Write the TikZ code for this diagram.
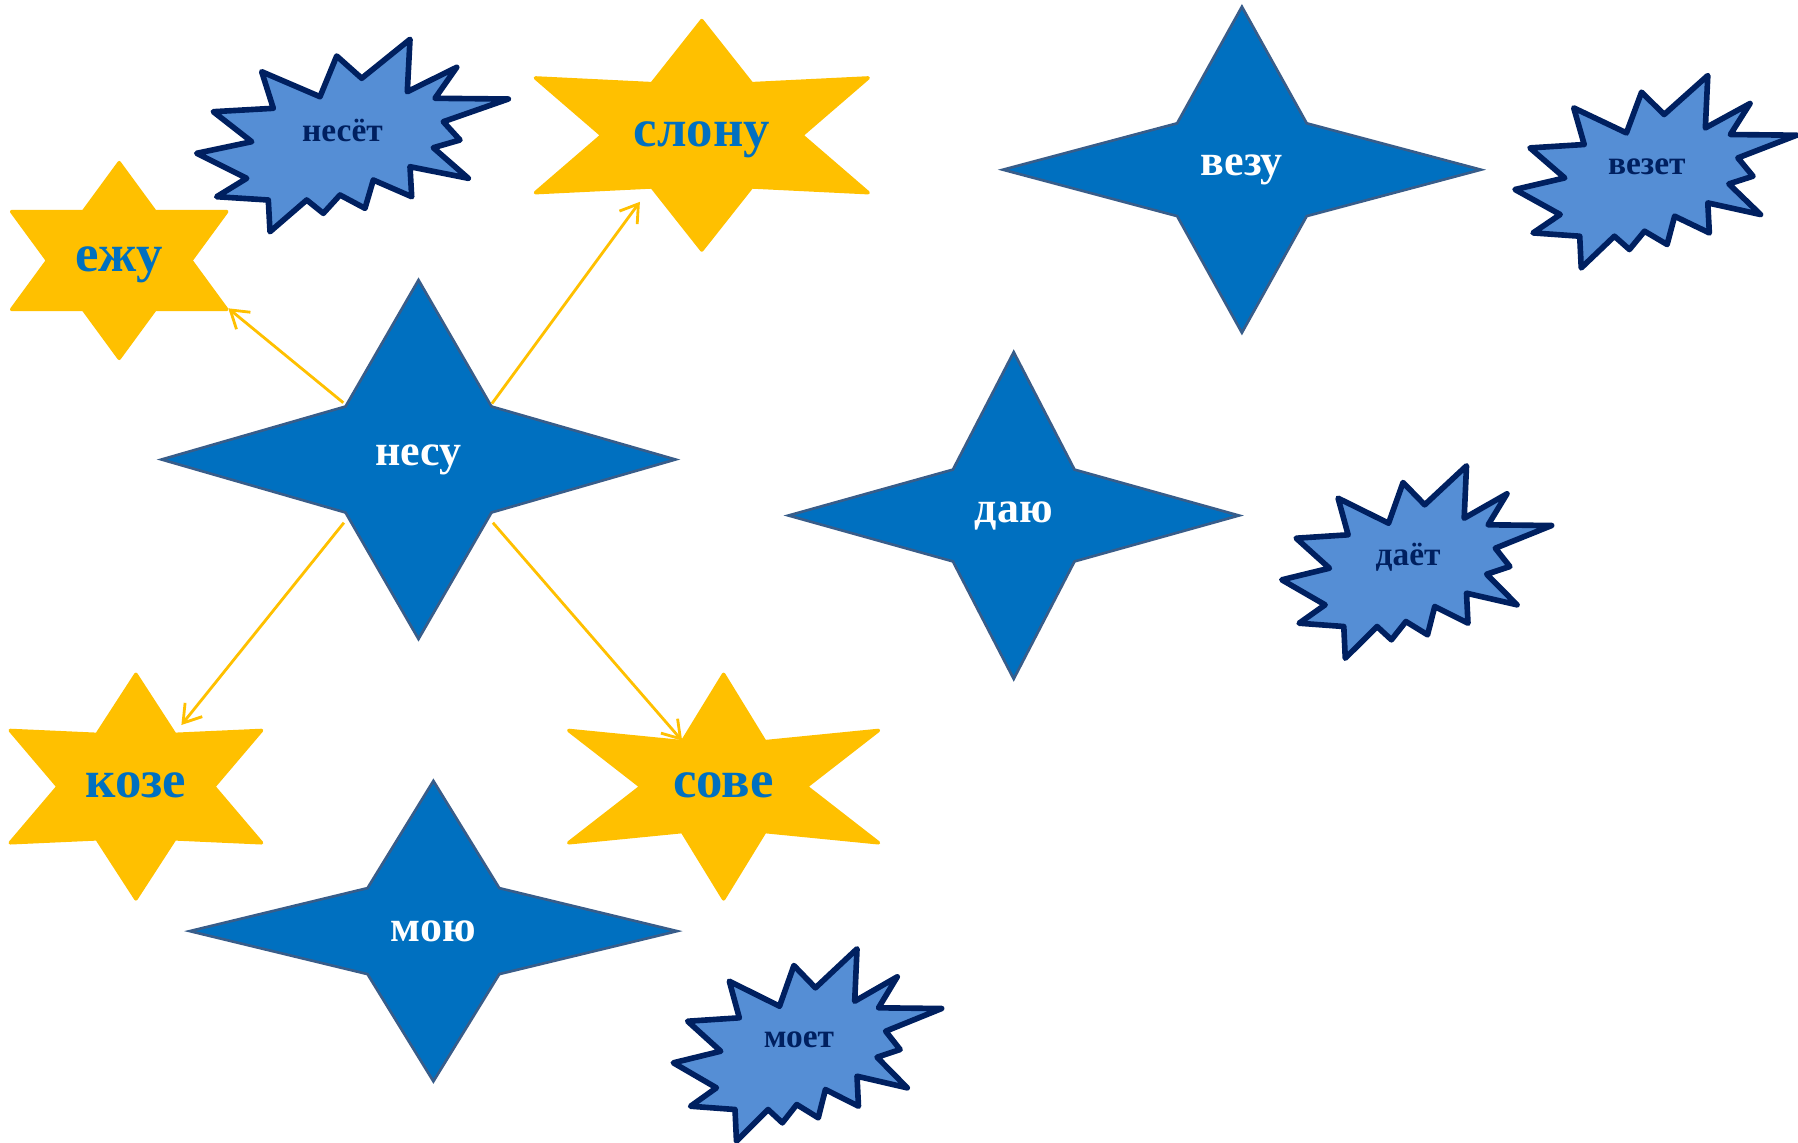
\documentclass[tikz,border=0pt]{standalone}
\usepackage{fontspec}
\setmainfont{Liberation Serif}
\usepackage{tikz}
\usetikzlibrary{arrows.meta}
\usetikzlibrary{calc}
\definecolor{ColStar}{RGB}{0,112,192}
\definecolor{ColEdge}{RGB}{56,93,138}
\definecolor{ColSun}{RGB}{255,192,0}
\definecolor{ColBoom}{RGB}{85,142,213}
\definecolor{ColNavy}{RGB}{0,32,96}
\tikzstyle{StarShape}=[fill=ColStar,draw=ColEdge,line width=0.75pt]
\tikzstyle{SunShape}=[fill=ColSun,draw=ColSun,line width=1pt,line join=round]
\tikzstyle{BoomShape}=[fill=ColBoom,draw=ColNavy,line width=1.6pt,line join=round]
\tikzstyle{StarText}=[text=white,inner sep=0pt,font=\bfseries\fontsize{12.5}{15}\selectfont]
\tikzstyle{SunText}=[text=ColStar,inner sep=0pt,anchor=base,font=\bfseries\fontsize{15}{18}\selectfont]
\tikzstyle{BoomText}=[text=ColNavy,inner sep=0pt,font=\bfseries\fontsize{9.5}{11}\selectfont]
\tikzstyle{EdgeGraph}=[ColSun,line width=0.8pt,-{Straight Barb[length=1.7mm,width=2.2mm]}]
% four-pointed star: name, centre, half width, half height, inner dx, inner dy, word
\newcommand{\StarFour}[7]{%
  \path[StarShape,shift={(#2)}](0,-#4)--(#5,-#6)--(#3,0)--(#5,#6)--(0,#4)--(-#5,#6)--(-#3,0)--(-#5,-#6)--cycle;
  \node[StarText](#1)at(#2){#7};}
% six-pointed star: name, centre, half width, half height, inner ratio, word
\newcommand{\StarSix}[6]{%
  \path[SunShape,shift={(#2)}](0,-#4)--({#5*#3/3},{-#5*#4/2})--(#3,{-#4/2})--({2*#5*#3/3},0)
    --(#3,{#4/2})--({#5*#3/3},{#5*#4/2})--(0,#4)--({-#5*#3/3},{#5*#4/2})--(-#3,{#4/2})
    --({-2*#5*#3/3},0)--(-#3,{-#4/2})--({-#5*#3/3},{-#5*#4/2})--cycle;
  \node[SunText](#1)at($(#2)+(0,11)$){#6};}
% explosion: name, centre, x scale, word
\newcommand{\Boom}[4]{%
  \path[BoomShape,shift={(#2)},xscale=#3](57.5,-96.2)--(54.8,-43.8)--(104.2,-68.2)--(82.5,-37.2)
    --(155.8,-36.5)--(90.8,-13.8)--(107.5,4.5)--(80.8,12.2)--(115.8,42.8)--(57.5,31.2)
    --(59.2,61.2)--(20.8,44.5)--(12.5,72.8)--(-12.5,59.5)--(-29.2,77.8)--(-45.8,64.5)
    --(-82.5,96.2)--(-84.2,64.5)--(-135.8,61.2)--(-105.8,42.8)--(-155.8,17.8)--(-100.8,6.2)
    --(-139.2,-23.8)--(-79.2,-27.2)--(-90.8,-63.8)--(-32.5,-38.8)--(-15.8,-79.5)--(9.2,-57.2)--cycle;
  \node[BoomText](#1)at($(#2)+(-10*#3,-5)$){#4};}

\begin{document}
\begin{tikzpicture}[x=0.01cm,y=-0.01cm]
        \useasboundingbox(0,0)rectangle(1798,1142);
        \StarSix{ezhu}{119.2,260.5}{107.5}{97.8}{1}{ежу}
        \StarSix{slonu}{701.8,135.3}{166.3}{114.7}{0.9}{слону}
        \StarSix{koze}{135.9,786.6}{125.6}{112.3}{0.93}{козе}
        \StarSix{sove}{723.6,786.6}{154.8}{112.3}{0.8}{сове}
        \StarFour{nesu}{418.5,459.5}{257}{179.5}{73}{53}{несу}
        \StarFour{vezu}{1241.9,169.7}{239}{163}{64.8}{46.4}{везу}
        \StarFour{dayu}{1013.7,515.5}{225.3}{163.4}{60.8}{45.9}{даю}
        \StarFour{moyu}{433.4,931.1}{243.7}{150.2}{65.9}{43}{мою}
        \Boom{neset}{352.5,135.5}{1}{несёт}
        \Boom{vezet}{1655.8,171.7}{0.904}{везет}
        \Boom{dayot}{1416.7,562}{0.866}{даёт}
        \Boom{moet}{807.5,1045}{0.861}{моет}
        \coordinate(nesu-nw)at(343.3,402.7);
        \coordinate(nesu-ne)at(491.9,403.6);
        \coordinate(nesu-sw)at(343.9,522.7);
        \coordinate(nesu-se)at(492.9,522.7);
        \coordinate(ezhu-in)at(228.3,308.3);
        \coordinate(slonu-in)at(639.9,201.8);
        \coordinate(koze-in)at(181.4,725);
        \coordinate(sove-in)at(682.1,740.7);
        \draw[EdgeGraph](nesu-nw)--(ezhu-in);
        \draw[EdgeGraph](nesu-ne)--(slonu-in);
        \draw[EdgeGraph](nesu-sw)--(koze-in);
        \draw[EdgeGraph](nesu-se)--(sove-in);
    \end{tikzpicture}
\end{document}
